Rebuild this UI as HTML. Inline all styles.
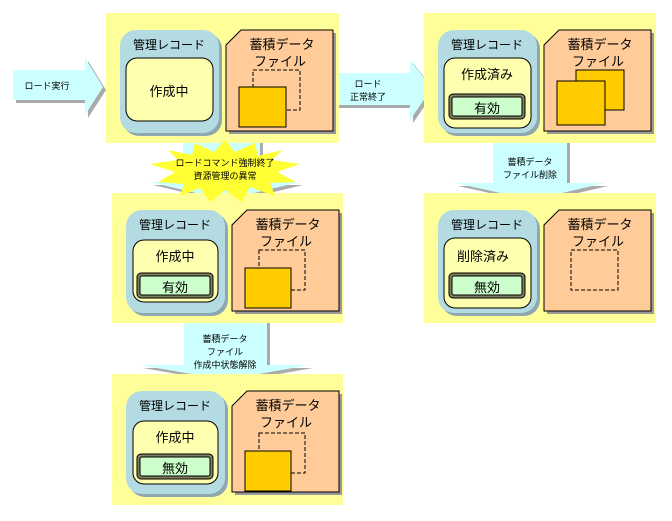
<!DOCTYPE html>
<html><head><meta charset="utf-8"><style>
html,body{margin:0;padding:0;background:#fff;}
svg{display:block;font-family:"Liberation Sans","Noto Sans CJK JP",sans-serif;}
</style></head><body>
<svg width="672" height="521" viewBox="0 0 672 521" xmlns="http://www.w3.org/2000/svg">
<defs>
<g id="rec">
  <rect x="17" y="20" width="99" height="103" rx="16" fill="#8fa8b0"/>
  <rect x="14" y="17" width="99" height="103" rx="16" fill="#b4dbe2"/>
  <text x="63" y="36" font-size="12" text-anchor="middle" fill="#000">管理レコード</text>
</g>
<g id="file">
  <polygon points="137,20 230,20 230,121 123,121 123,35" fill="#999"/>
  <polygon points="135,17 227,17 227,118 120,118 120,32" fill="#ffcc99" stroke="#000" stroke-width="1"/>
  <text x="176" y="36" font-size="13" text-anchor="middle">蓄積データ</text>
  <text x="174" y="53" font-size="13" text-anchor="middle">ファイル</text>
</g>
<g id="btn">
  <rect x="0" y="0" width="76" height="25" rx="4" fill="#808060" stroke="#000"/>
  <rect x="3" y="3" width="70" height="19" rx="2" fill="#ccffcc" stroke="#000"/>
</g>
</defs>

<polygon points="16,73 88,73 88,61 106,90 88,118 88,103 16,103" fill="#aaa"/>
<polygon points="13,70 85,70 85,58 103,87 85,115 85,100 13,100" fill="#ccffff"/>
<text x="47" y="89" font-size="9" text-anchor="middle">ロード実行</text>

<polygon points="339,76 413,76 413,63 435,91 413,123 413,108 339,108" fill="#aaa"/>
<polygon points="339,73 410,73 410,60 432,88 410,120 410,105 339,105" fill="#ccffff"/>
<text x="368" y="87" font-size="9" text-anchor="middle">ロード</text>
<text x="368" y="100" font-size="9" text-anchor="middle">正常終了</text>

<polygon points="496,143 570,143 570,186 608,186 535,203 458,186 496,186" fill="#aaa"/>
<polygon points="493,143 567,143 567,183 605,183 532,200 455,183 493,183" fill="#ccffff"/>
<text x="530" y="165" font-size="9" text-anchor="middle">蓄積データ</text>
<text x="530" y="178" font-size="9" text-anchor="middle">ファイル削除</text>

<polygon points="186,143 263,143 263,185 303,185 228,203 153,185 186,185" fill="#aaa"/>
<polygon points="183,143 260,143 260,182 300,182 225,200 150,182 183,182" fill="#ccffff"/>

<polygon points="187,322 270,322 270,368 313,368 228,383 143,368 187,368" fill="#aaa"/>
<polygon points="184,322 267,322 267,365 310,365 225,380 140,365 184,365" fill="#ccffff"/>
<text x="225" y="342" font-size="9" text-anchor="middle">蓄積データ</text>
<text x="225" y="355" font-size="9" text-anchor="middle">ファイル</text>
<text x="225" y="368" font-size="9" text-anchor="middle">作成中状態解除</text>

<g transform="translate(106,13)">
  <rect x="0" y="0" width="233" height="130" fill="#ffff99"/>
  <use href="#rec"/>
  <rect x="20" y="45" width="87" height="63" rx="11" fill="#ffffb0" stroke="#000"/>
  <text x="63" y="83" font-size="13" text-anchor="middle">作成中</text>
  <use href="#file"/>
  <rect x="147" y="57" width="47" height="40" fill="none" stroke="#000" stroke-dasharray="4,2"/>
  <rect x="133" y="74" width="47" height="40" fill="#ffcc00" stroke="#000"/>
</g>

<g transform="translate(424,13)">
  <rect x="0" y="0" width="232" height="130" fill="#ffff99"/>
  <use href="#rec"/>
  <rect x="20" y="45" width="87" height="70" rx="11" fill="#ffffb0" stroke="#000"/>
  <text x="63" y="66" font-size="13" text-anchor="middle">作成済み</text>
  <use href="#btn" transform="translate(25,81)"/>
  <text x="63" y="100" font-size="13" text-anchor="middle">有効</text>
  <use href="#file"/>
  <rect x="152" y="57" width="48" height="40" fill="#ffcc00" stroke="#000"/>
  <rect x="133" y="68" width="48" height="44" fill="#ffcc00" stroke="#000"/>
</g>

<g transform="translate(112,193)">
  <rect x="0" y="0" width="231" height="130" fill="#ffff99"/>
  <use href="#rec"/>
  <rect x="21" y="47" width="85" height="62" rx="11" fill="#ffffb0" stroke="#000"/>
  <text x="63" y="68" font-size="13" text-anchor="middle">作成中</text>
  <use href="#btn" transform="translate(25,80)"/>
  <text x="63" y="99" font-size="13" text-anchor="middle">有効</text>
  <use href="#file"/>
  <rect x="147" y="57" width="46" height="40" fill="none" stroke="#000" stroke-dasharray="4,2"/>
  <rect x="133" y="75" width="46" height="40" fill="#ffcc00" stroke="#000"/>
</g>

<g transform="translate(424,193)">
  <rect x="0" y="0" width="232" height="130" fill="#ffff99"/>
  <use href="#rec"/>
  <rect x="20" y="45" width="87" height="70" rx="11" fill="#ffffb0" stroke="#000"/>
  <text x="59" y="68" font-size="13" text-anchor="middle">削除済み</text>
  <use href="#btn" transform="translate(25,80)"/>
  <text x="63" y="99" font-size="13" text-anchor="middle">無効</text>
  <use href="#file"/>
  <rect x="147" y="57" width="47" height="40" fill="none" stroke="#000" stroke-dasharray="4,2"/>
</g>

<g transform="translate(112,374)">
  <rect x="0" y="0" width="231" height="131" fill="#ffff99"/>
  <use href="#rec"/>
  <rect x="21" y="47" width="85" height="63" rx="11" fill="#ffffb0" stroke="#000"/>
  <text x="63" y="68" font-size="13" text-anchor="middle">作成中</text>
  <use href="#btn" transform="translate(25,80)"/>
  <text x="63" y="99" font-size="13" text-anchor="middle">無効</text>
  <use href="#file"/>
  <rect x="147" y="59" width="46" height="40" fill="none" stroke="#000" stroke-dasharray="4,2"/>
  <rect x="133" y="77" width="46" height="40" fill="#ffcc00" stroke="#000"/>
</g>

<polygon points="225,140 235,152 255,143 258,156 282,150 272,160 300,164 277,172 296,182 270,183 275,196 250,187 242,202 225,190 210,202 200,188 180,196 184,184 158,182 175,172 150,164 178,160 168,150 192,155 195,143 214,152" fill="#ffff33"/>
<text x="225" y="166" font-size="9" text-anchor="middle">ロードコマンド強制終了</text>
<text x="225" y="179" font-size="9" text-anchor="middle">資源管理の異常</text>
</svg>
</body></html>
